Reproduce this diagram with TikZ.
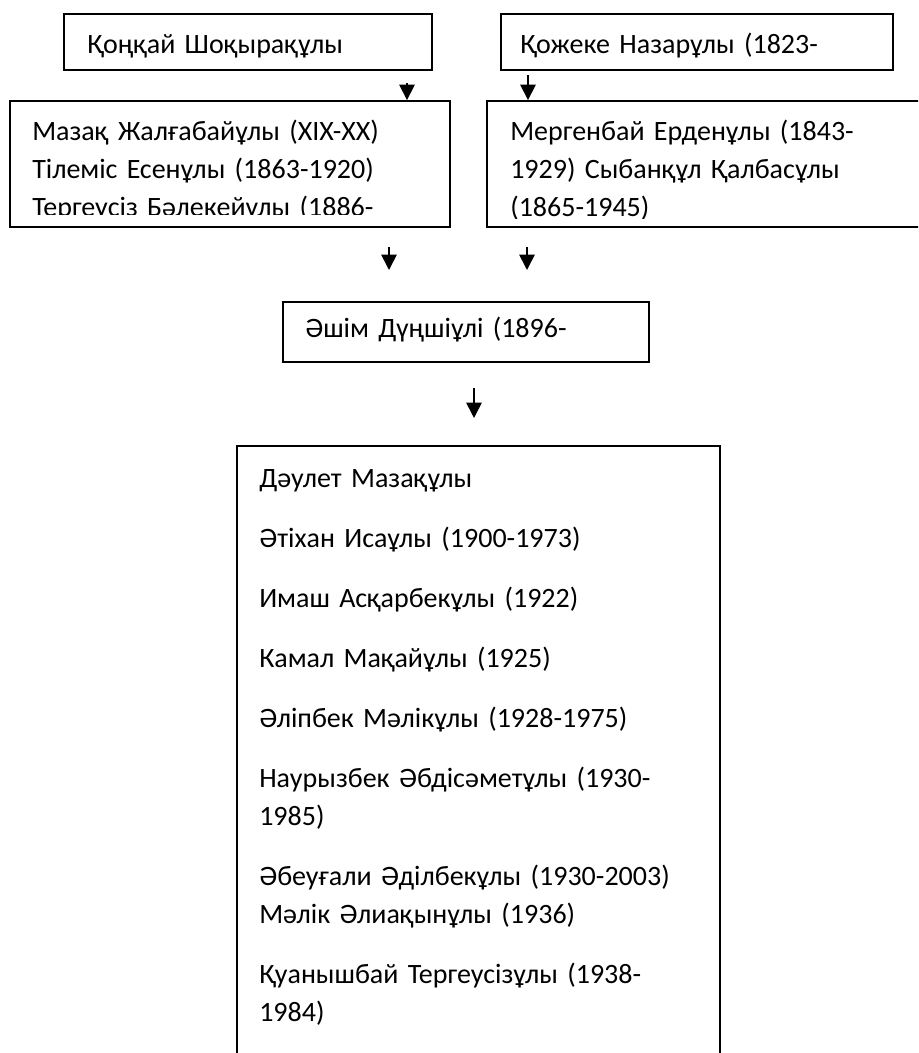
\documentclass[tikz,border=0pt]{standalone}
\usepackage{fontspec}
\setmainfont{Carlito}
\usetikzlibrary{arrows.meta}
\usetikzlibrary{fit}

\tikzset{
  box/.style={draw, line width=1.4pt, inner sep=0pt},
  names/.style={anchor=base west, inner sep=0pt, text width=600pt, align=left,
    font=\fontsize{21}{28.5}\selectfont},
  down/.style={-{Triangle[width=11.5pt,length=11.5pt]}, line width=1.2pt}
}

\begin{document}
\begin{tikzpicture}[x=0.75pt,y=-0.75pt]
\useasboundingbox (0,0) rectangle (918,1053);
\clip (0,0) rectangle (918,1053);
% top row
\node[box, fit={(64,14) (432,70)}] (qonqai) {};
\node[names] (qonqai-t) at (87,53) {Қоңқай Шоқырақұлы};
\node[box, fit={(501,14) (893,70)}] (qozheke) {};
\node[names] (qozheke-t) at (520,53) {Қожеке Назарұлы (1823-};
% second row
\node[box, fit={(10,101) (450,227)}] (mazaq) {};
\begin{scope}
\clip (10,101) rectangle (450,214);
\node[names] (mazaq-t) at (32,140) {Мазақ Жалғабайұлы (XIX-XX)\\
  Тілеміс Есенұлы (1863-1920)\\
  Тергеусіз Бәлекейұлы (1886-};
\end{scope}
\node[box, fit={(487,101) (940,227)}] (mergen) {};
\begin{scope}
\clip (487,101) rectangle (918,218);
\node[names] (mergen-t) at (510,140) {Мергенбай Ерденұлы (1843-\\
  1929) Сыбанқұл Қалбасұлы\\
  (1865-1945)};
\end{scope}
\coordinate (a1) at (407,83);
\draw[down] (a1) -- (a1 |- mazaq.north);
\coordinate (c1) at (528,75);
\draw[down] (c1) -- (c1 |- mergen.north);
% middle
\coordinate (e1) at (389,247);
\coordinate (e1b) at (389,270);
\coordinate (e2) at (527,247);
\coordinate (e2b) at (527,270);
\draw[down] (e1) -- (e1b);
\draw[down] (e2) -- (e2b);
\node[box, fit={(283,302) (649,362)}] (ashim) {};
\node[names] (ashim-t) at (305,337) {Әшім Дүңшіұлі (1896-};
\coordinate (g1) at (474,388);
\coordinate (g1b) at (474,418);
\draw[down] (g1) -- (g1b);
% bottom box
\node[box, fit={(237,446) (720,1100)}] (pupils) {};
\node[names] (pupils-t) at (259,487) {Дәулет Мазақұлы\\[16.5pt]
  Әтіхан Исаұлы (1900-1973)\\[16.5pt]
  Имаш Асқарбекұлы (1922)\\[16.5pt]
  Камал Мақайұлы (1925)\\[16.5pt]
  Әліпбек Мәлікұлы (1928-1975)\\[16.5pt]
  Наурызбек Әбдісәметұлы (1930-\\
  1985)\\[16.5pt]
  Әбеуғали Әділбекұлы (1930-2003)\\
  Мәлік Әлиақынұлы (1936)\\[16.5pt]
  Қуанышбай Тергеусізұлы (1938-\\
  1984)};
\end{tikzpicture}
\end{document}
